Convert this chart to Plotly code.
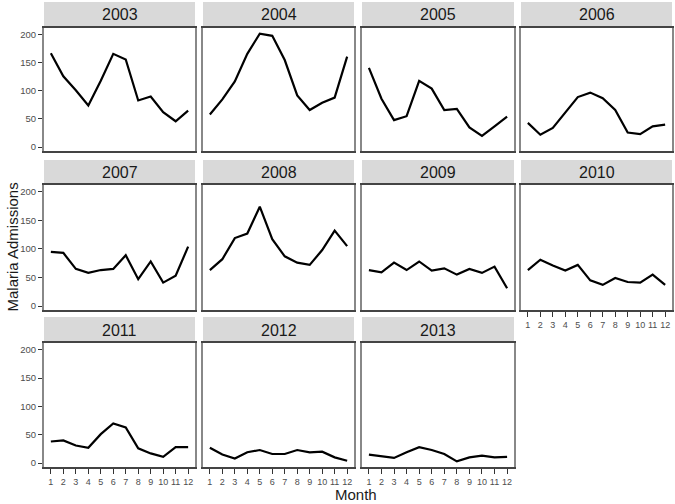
import plotly.graph_objects as go
from plotly.subplots import make_subplots

# Monthly malaria admissions
months = list(range(1, 13))
years = ['2003', '2004', '2005', '2006', '2007', '2008', '2009', '2010', '2011', '2012', '2013']

adm_2003 = [167, 126, 101, 74, 118, 166, 156, 83, 90, 62, 46, 65]
adm_2004 = [58, 85, 117, 166, 202, 198, 155, 92, 66, 79, 88, 161]
adm_2005 = [141, 86, 48, 55, 118, 104, 66, 68, 35, 20, 37, 54]
adm_2006 = [43, 22, 34, 61, 89, 97, 87, 66, 26, 23, 37, 40]
adm_2007 = [95, 93, 65, 58, 63, 65, 89, 47, 78, 41, 53, 104]
adm_2008 = [63, 82, 119, 127, 174, 117, 87, 76, 72, 98, 132, 105]
adm_2009 = [63, 59, 76, 63, 78, 62, 66, 55, 65, 58, 69, 31]
adm_2010 = [63, 81, 71, 62, 72, 45, 37, 49, 42, 41, 55, 37]
adm_2011 = [38, 40, 31, 27, 51, 70, 63, 26, 17, 11, 28, 28]
adm_2012 = [27, 15, 8, 19, 23, 16, 16, 23, 19, 20, 10, 4]
adm_2013 = [15, 12, 9, 19, 28, 23, 16, 3, 10, 13, 10, 11]

series = [adm_2003, adm_2004, adm_2005, adm_2006, adm_2007, adm_2008,
          adm_2009, adm_2010, adm_2011, adm_2012, adm_2013]

W, H = 675, 504
ml, mr, mt, mb = 44, 3, 28, 37
pw, ph = W - ml - mr, H - mt - mb

# panel pixel boxes (left,right) and (top,bottom) of plotting area
col_px = [(44, 195), (203, 354), (362, 514), (521, 672)]
row_px = [(28, 151), (185, 310), (343, 467)]
strip_h = [26, 25, 26]

fig = make_subplots(rows=3, cols=4)

font_main = 'Liberation Sans, Arial, sans-serif'

for i, (yr, vals) in enumerate(zip(years, series)):
    r, c = i // 4, i % 4
    fig.add_trace(go.Scatter(x=months, y=vals, mode='lines',
                             line=dict(color='black', width=2.2),
                             showlegend=False, hoverinfo='skip'),
                  row=r + 1, col=c + 1)

for i in range(12):
    r, c = i // 4, i % 4
    xn = 'xaxis' if i == 0 else 'xaxis%d' % (i + 1)
    yn = 'yaxis' if i == 0 else 'yaxis%d' % (i + 1)
    x0, x1 = col_px[c]
    t, b = row_px[r]
    xdom = [(x0 - ml) / pw, min((x1 - ml) / pw, 1.0)]
    ydom = [1 - (b - mt) / ph, 1 - (t - mt) / ph]
    if i >= len(years):
        fig.layout[xn].update(domain=xdom, visible=False)
        fig.layout[yn].update(domain=ydom, visible=False)
        continue
    show_x = i >= 7
    fig.layout[xn].update(
        domain=xdom, range=[0.45, 12.55], tickvals=months, automargin=False,
        showticklabels=show_x, ticks='outside' if show_x else '',
        ticklen=5, tickwidth=1, tickcolor='#333333', tickangle=0,
        tickfont=dict(size=9, color='#4d4d4d', family=font_main),
        showgrid=False, zeroline=False, showline=True, mirror=True,
        linecolor='#444444', linewidth=1.5)
    fig.layout[yn].update(
        domain=ydom, range=[-7, 212], tickvals=[0, 50, 100, 150, 200], automargin=False,
        showticklabels=(c == 0), ticks='outside' if c == 0 else '',
        ticklen=4, tickwidth=1, tickcolor='#333333',
        tickfont=dict(size=9.5, color='#4d4d4d', family=font_main),
        showgrid=False, zeroline=False, showline=True, mirror=True,
        linecolor='#888888', linewidth=2)
    sf = strip_h[r] / (b - t)
    xref = 'x domain' if i == 0 else 'x%d domain' % (i + 1)
    yref = 'y domain' if i == 0 else 'y%d domain' % (i + 1)
    fig.add_shape(type='rect', xref=xref, yref=yref, x0=0, x1=1, y0=1.012, y1=1 + sf,
                  fillcolor='#d9d9d9', line=dict(width=0), layer='below')
    fig.add_annotation(text=years[i], xref=xref, yref=yref, x=0.5, y=1 + sf / 2,
                       showarrow=False, xanchor='center', yanchor='middle',
                       font=dict(size=16, color='#1a1a1a', family=font_main))

fig.add_annotation(text='Malaria Admissions', xref='paper', yref='paper',
                   x=(12 - ml) / pw, y=0.5, textangle=-90, showarrow=False,
                   xanchor='center', yanchor='middle',
                   font=dict(size=15, color='#1a1a1a', family=font_main))
fig.add_annotation(text='Month', xref='paper', yref='paper',
                   x=0.497, y=-(494 - (H - mb)) / ph, showarrow=False,
                   xanchor='center', yanchor='middle',
                   font=dict(size=15, color='#1a1a1a', family=font_main))

fig.update_layout(width=W, height=H, margin=dict(l=ml, r=mr, t=mt, b=mb, autoexpand=False),
                  plot_bgcolor='white', paper_bgcolor='white',
                  font=dict(family=font_main))

# page body has a default 8px margin; drop it so the figure fills the window
fig.write_html("out.html", config={'displayModeBar': False},
               post_script="document.body.style.margin='0';")
